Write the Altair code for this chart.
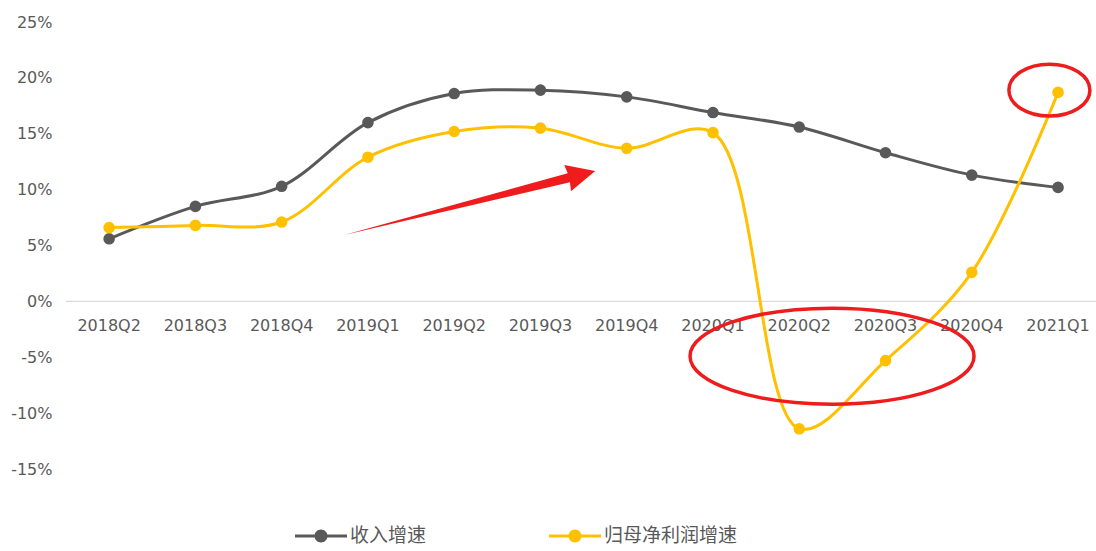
import altair as alt
import pandas as pd

# Quarterly growth rates (%)
quarters = ["2018Q2", "2018Q3", "2018Q4", "2019Q1", "2019Q2", "2019Q3",
            "2019Q4", "2020Q1", "2020Q2", "2020Q3", "2020Q4", "2021Q1"]
revenue_growth = [5.6, 8.5, 10.3, 16.0, 18.6, 18.9, 18.3, 16.9, 15.6, 13.3, 11.3, 10.2]
profit_growth = [6.6, 6.8, 7.1, 12.9, 15.2, 15.5, 13.7, 15.1, -11.4, -5.3, 2.6, 18.7]
series_names = ["收入增速", "归母净利润增速"]
series_colors = ["#595959", "#FFC000"]
y_ticks = [-15, -10, -5, 0, 5, 10, 15, 20, 25]

# Highlight marks placed in data coordinates (quarter index, percent)
arrow_pos = {"idx": [4.18], "val": [8.8]}
big_ring_pos = {"idx": [8.38], "val": [-4.9]}
small_ring_pos = {"idx": [10.9], "val": [18.9]}

RED = "#ee1c1c"
TEXT = "#595959"

rows = []
for i, q in enumerate(quarters):
    rows.append({"idx": i, "quarter": q, "series": series_names[0], "val": revenue_growth[i]})
    rows.append({"idx": i, "quarter": q, "series": series_names[1], "val": profit_growth[i]})
df = pd.DataFrame(rows)
labels_df = pd.DataFrame({"idx": list(range(len(quarters))), "quarter": quarters})


def ellipse_path(ry):
    """Closed ellipse of x-radius 1 and y-radius ry, built from four cubic curves."""
    k = 0.5523
    return (f"M-1,0 C-1,{-k*ry:.4f} {-k:.4f},{-ry:.4f} 0,{-ry:.4f} "
            f"C{k:.4f},{-ry:.4f} 1,{-k*ry:.4f} 1,0 "
            f"C1,{k*ry:.4f} {k:.4f},{ry:.4f} 0,{ry:.4f} "
            f"C{-k:.4f},{ry:.4f} -1,{k*ry:.4f} -1,0 Z")


def dot_line_path(r, h):
    """Legend glyph: a thin horizontal bar with a round marker in the middle."""
    k = 0.5523
    bar = f"M-1,{-h} L1,{-h} L1,{h} L-1,{h} Z "
    circ = (f"M{-r},0 C{-r},{-k*r:.4f} {-k*r:.4f},{-r} 0,{-r} "
            f"C{k*r:.4f},{-r} {r},{-k*r:.4f} {r},0 "
            f"C{r},{k*r:.4f} {k*r:.4f},{r} 0,{r} "
            f"C{-k*r:.4f},{r} {-r},{k*r:.4f} {-r},0 Z")
    return bar + circ


ARROW = "M-1,0 L0.79,-0.035 L0.78,-0.105 L1,0 L0.78,0.105 L0.79,0.035 Z"

x_scale = alt.Scale(domain=[-0.5, 11.44], nice=False)
y_scale = alt.Scale(domain=[-15, 25], nice=False)

X = alt.X("idx:Q", scale=x_scale, axis=None)
Y = alt.Y("val:Q", scale=y_scale, title=None,
          axis=alt.Axis(values=y_ticks, labelExpr="datum.value + '%'", grid=False,
                        domain=False, ticks=False, labelPadding=14,
                        labelFont="DejaVu Sans", labelFontSize=16, labelColor=TEXT))

color = alt.Color("series:N", scale=alt.Scale(domain=series_names, range=series_colors),
                  legend=alt.Legend(title=None, orient="none", direction="horizontal",
                                    legendX=229, legendY=488, padding=0,
                                    symbolType=dot_line_path(0.25, 0.058),
                                    symbolSize=2704, symbolStrokeWidth=0,
                                    labelFont="Noto Sans CJK SC", labelFontSize=19,
                                    labelColor=TEXT, labelOffset=3, columnPadding=122))

zero_rule = alt.Chart(pd.DataFrame({"val": [0]})).mark_rule(
    color="#d9d9d9", strokeWidth=1.2).encode(y=alt.Y("val:Q", scale=y_scale))

points = alt.Chart(df).mark_point(filled=True, size=135, opacity=1).encode(
    x=X, y=Y, color=color)

lines = alt.Chart(df).mark_line(interpolate="catmull-rom", strokeWidth=3).encode(
    x=X, y=Y, color=alt.Color("series:N", legend=None,
                              scale=alt.Scale(domain=series_names, range=series_colors)),
    detail="series:N")

quarter_labels = alt.Chart(labels_df).mark_text(
    dy=25, font="DejaVu Sans", fontSize=16, color=TEXT).encode(
    x=X, y=alt.datum(0), text="quarter:N")

arrow = alt.Chart(pd.DataFrame(arrow_pos)).mark_point(
    shape=ARROW, size=67081, angle=345.7, filled=True, fill=RED, strokeWidth=0,
    opacity=1).encode(x=X, y=alt.Y("val:Q", scale=y_scale))

big_ring = alt.Chart(pd.DataFrame(big_ring_pos)).mark_point(
    shape=ellipse_path(0.338), size=80656, filled=False, stroke=RED, strokeWidth=3.5,
    opacity=1).encode(x=X, y=alt.Y("val:Q", scale=y_scale))

small_ring = alt.Chart(pd.DataFrame(small_ring_pos)).mark_point(
    shape=ellipse_path(0.64), size=6561, filled=False, stroke=RED, strokeWidth=3.5,
    opacity=1).encode(x=X, y=alt.Y("val:Q", scale=y_scale))

chart = alt.layer(
    zero_rule, quarter_labels, points, lines, arrow, big_ring, small_ring
).properties(
    width=1030, height=447,
    autosize=alt.AutoSizeParams(type="none"),
    padding={"left": 66, "top": 22, "right": 0, "bottom": 82},
    background="white",
).configure_view(stroke=None)

chart.save("out.html", embed_options={"renderer": "svg", "actions": False})
